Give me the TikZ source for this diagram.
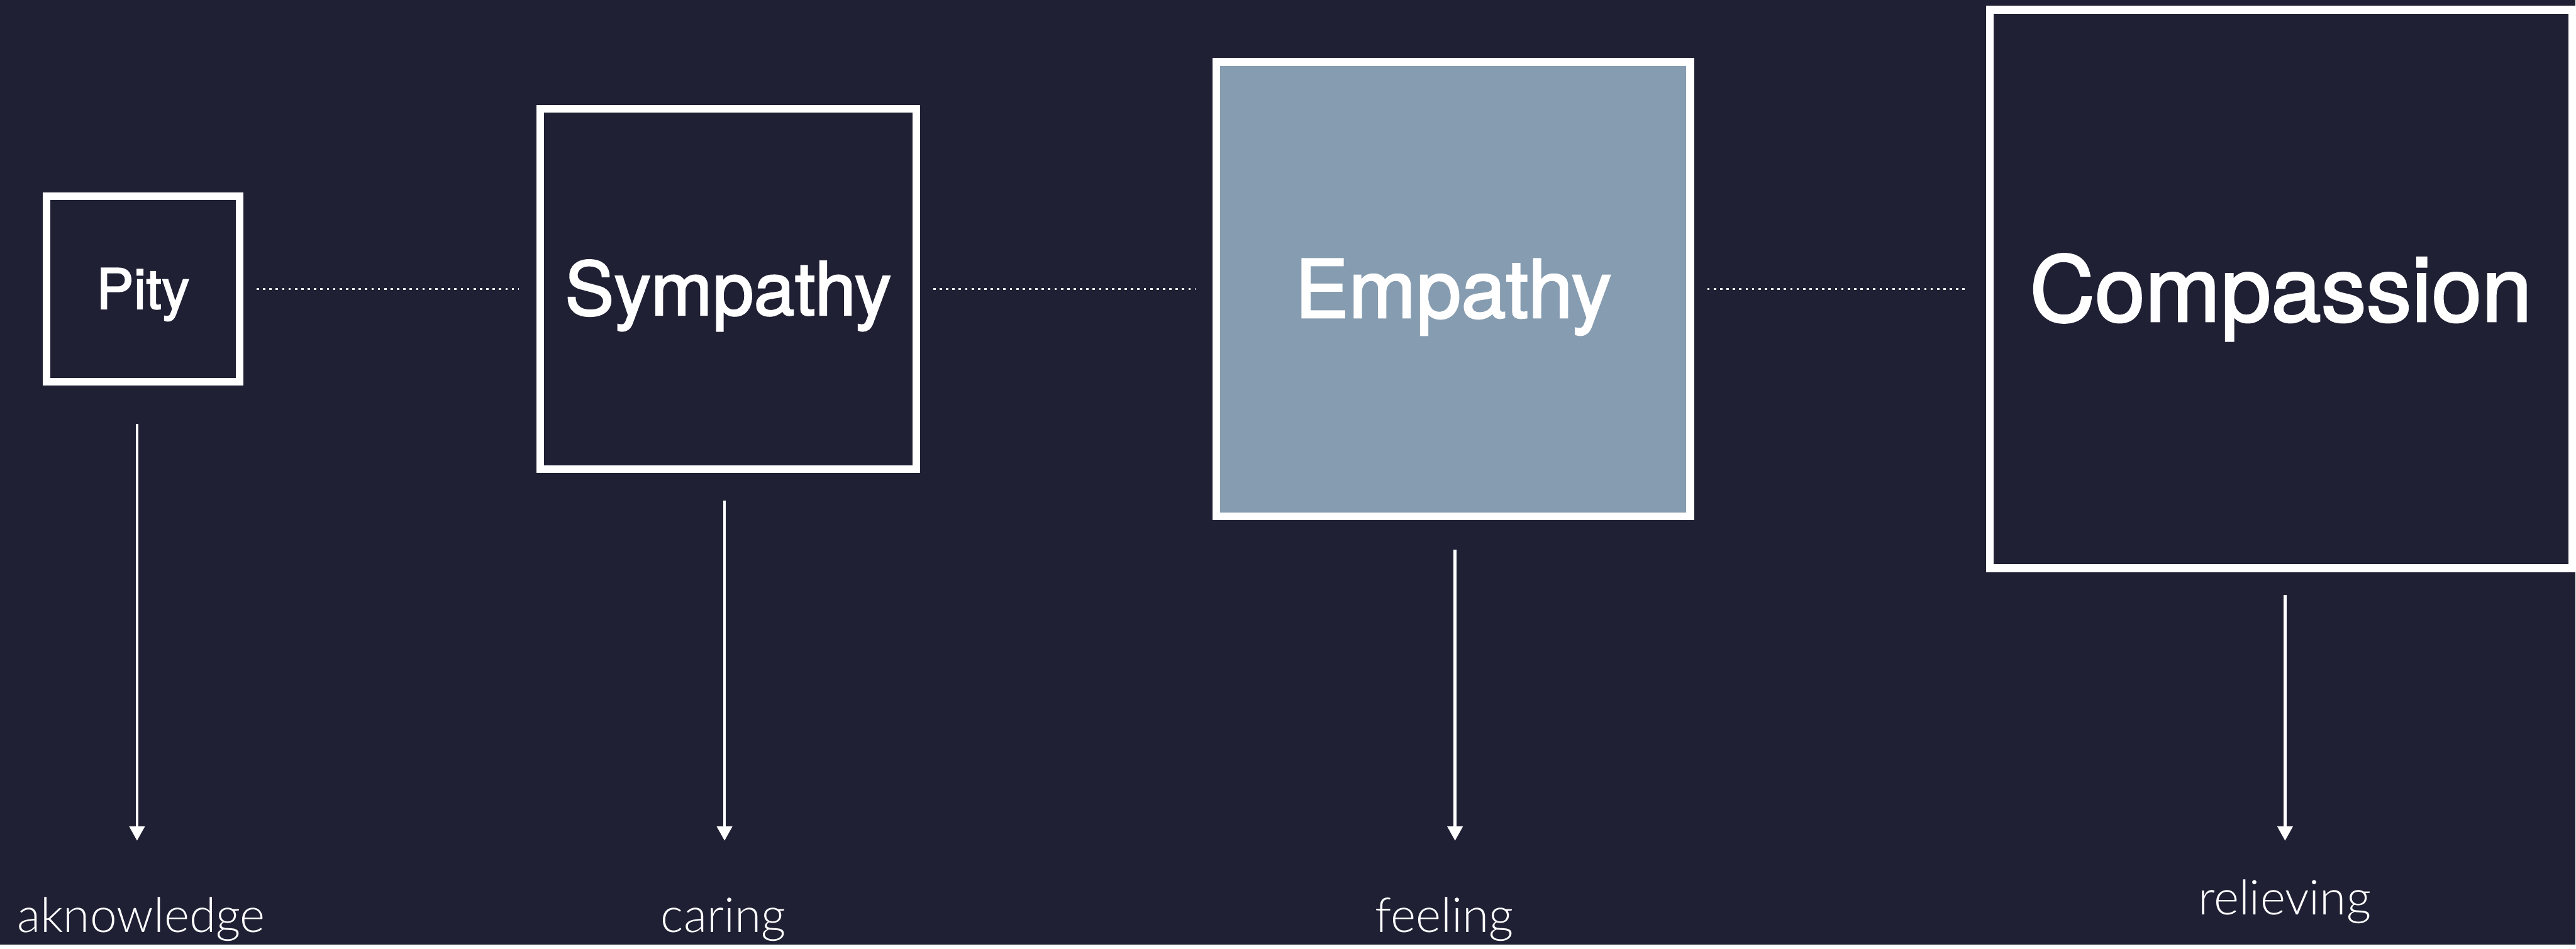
\documentclass[tikz,border=0pt]{standalone}
\usepackage{fontspec}
\setmainfont{TeX Gyre Heros}[FakeBold=2]
\newfontfamily\lightfont{Lato Light}
\usetikzlibrary{arrows.meta,positioning}

\definecolor{bgnavy}{HTML}{1F2034}
\definecolor{slateblue}{HTML}{869CB0}

\tikzstyle{block} = [rectangle, draw=white, line width=0.13cm, text=white, text depth=0pt, inner sep=0pt]
\tikzstyle{arrow} = [draw=white, line width=0.05cm, -{Triangle[width=0.25cm, length=0.24cm]}]
\tikzstyle{line} = [draw=white, line width=0.04cm, dash pattern=on 0.04cm off 0.067cm, shorten <=0.22cm, shorten >=0.29cm]
\tikzstyle{caption} = [text=white, anchor=base, font=\lightfont\fontsize{23}{23}\selectfont]

\begin{document}
\begin{tikzpicture}[x=0.01cm, y=-0.01cm]
    \fill[bgnavy] (0,0) rectangle (4322,1585);

    % boxes
    \node[block, minimum width=3.24cm, minimum height=3.11cm, text height=19pt, font=\fontsize{26.7}{26.7}\selectfont] (pity) at (240,485) {Pity};
    \node[block, minimum width=6.31cm, minimum height=6.04cm, text height=24.8pt, font=\fontsize{35.2}{35.2}\selectfont] (sympathy) at (1222,485) {Sympathy};
    \node[block, fill=slateblue, minimum width=7.95cm, minimum height=7.62cm, text height=27.4pt, font=\fontsize{38.5}{38.5}\selectfont] (empathy) at (2439,485) {Empathy};
    \node[block, minimum width=9.77cm, minimum height=9.37cm, text height=30.8pt, font=\fontsize{43.1}{43.1}\selectfont] (compassion) at (3828,485) {Compassion};

    % dotted links
    \draw [line] (pity.east) to (sympathy.west);
    \draw [line] (sympathy.east) to (empathy.west);
    \draw [line] (empathy.east) to (compassion.west);

    % captions
    \node[caption] (pityLbl) at (237,1565) {aknowledge};
    \node[caption] (sympathyLbl) at (1214,1565) {caring};
    \node[caption] (empathyLbl) at (2424,1565) {feeling};
    \node[caption] (compassionLbl) at (3834,1535) {relieving};

    % arrows
    \coordinate (pityTip) at (230,1411);
    \coordinate (sympathyTip) at (1216,1411);
    \coordinate (empathyTip) at (2442,1411);
    \coordinate (compassionTip) at (3835,1411);
    \draw [arrow, shorten <=0.64cm] (pity.south -| pityTip) to (pityTip);
    \draw [arrow, shorten <=0.46cm] (sympathy.south -| sympathyTip) to (sympathyTip);
    \draw [arrow, shorten <=0.50cm] (empathy.south -| empathyTip) to (empathyTip);
    \draw [arrow, shorten <=0.38cm] (compassion.south -| compassionTip) to (compassionTip);
\end{tikzpicture}
\end{document}
